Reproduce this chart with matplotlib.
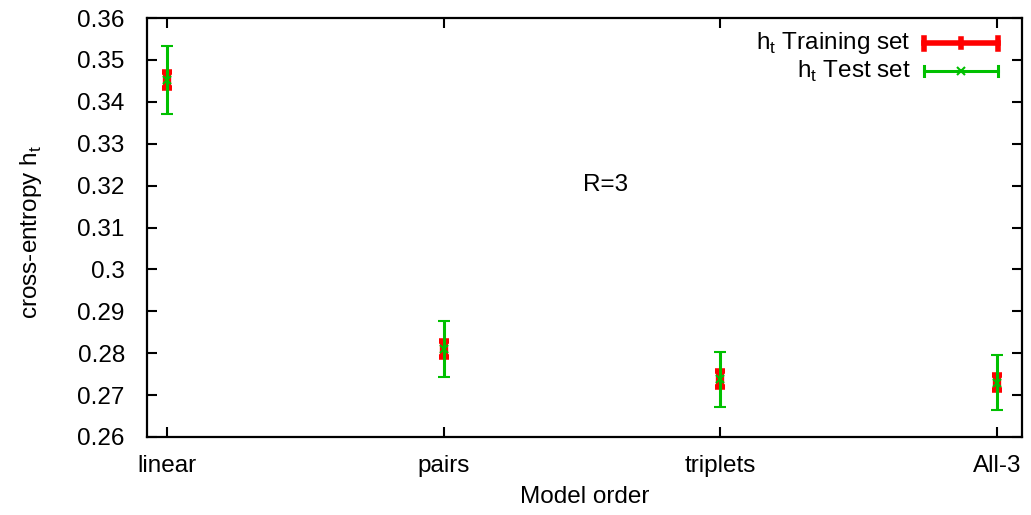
import matplotlib
matplotlib.use("Agg")
import matplotlib.pyplot as plt
from matplotlib.lines import Line2D

plt.rcParams['font.family'] = ['Liberation Sans', 'DejaVu Sans']

categories = ["linear", "pairs", "triplets", "All-3"]
train_mean = [0.3452, 0.2810, 0.2738, 0.2730]
train_err = [0.0019, 0.0018, 0.0019, 0.0019]
test_mean = [0.3452, 0.2810, 0.2738, 0.2730]
test_err = [0.0081, 0.0068, 0.0066, 0.0066]
yticks = [0.26, 0.27, 0.28, 0.29, 0.30, 0.31, 0.32, 0.33, 0.34, 0.35, 0.36]
ytick_labels = ["0.26", "0.27", "0.28", "0.29", "0.3", "0.31", "0.32", "0.33", "0.34", "0.35", "0.36"]

red = "#ff0000"
green = "#00c000"
fs = 17.5

fig = plt.figure(figsize=(10.31, 5.15), dpi=100)
ax = fig.add_axes([0.1426, 0.1515, 0.8487, 0.8135])

x = list(range(len(categories)))

ax.errorbar(x, train_mean, yerr=train_err, fmt='none', ecolor=red,
            elinewidth=6, capsize=3.8, capthick=4, zorder=3)
ax.errorbar(x, test_mean, yerr=test_err, fmt='x', color=green, ecolor=green,
            markersize=6, markeredgewidth=1.5,
            elinewidth=2.2, capsize=4, capthick=2.2, zorder=4)

ax.set_xlim(-0.072, 3.09)
ax.set_ylim(0.26, 0.36)
ax.set_xticks(x)
ax.set_xticklabels(categories, fontsize=fs)
ax.set_yticks(yticks)
ax.set_yticklabels(ytick_labels, fontsize=fs)
ax.tick_params(direction='in', length=7, width=1.5, top=True, right=True)
ax.tick_params(axis='y', pad=16)
ax.tick_params(axis='x', pad=13)
for s in ax.spines.values():
    s.set_linewidth(1.6)

ax.set_xlabel("Model order", fontsize=fs)
ax.xaxis.set_label_coords(0.5, -0.117)
ax.set_ylabel("cross-entropy h$_\\mathregular{t}$", fontsize=fs)
ax.yaxis.set_label_coords(-0.118, 0.49)

ax.text(1.585, 0.3201, "R=3", fontsize=fs, ha='center', va='center')

# key in the upper right corner
key_rows = [("h$_\\mathregular{t}$ Training set", red, 4, None),
            ("h$_\\mathregular{t}$ Test set", green, 2.2, 'x')]
ys = [0.940, 0.8735]
x0, x1 = 0.888, 0.9725
for (label, col, lw, mk), yy in zip(key_rows, ys):
    ax.text(0.873, yy, label, transform=ax.transAxes, fontsize=fs,
            ha='right', va='center')
    ax.add_line(Line2D([x0, x1], [yy, yy], transform=ax.transAxes, color=col, lw=lw))
    for xe in (x0, x1):
        ax.add_line(Line2D([xe, xe], [yy - 0.013, yy + 0.013], transform=ax.transAxes,
                           color=col, lw=lw))
    xm = (x0 + x1) / 2
    if mk:
        ax.add_line(Line2D([xm], [yy], transform=ax.transAxes, color=col,
                           marker='x', markersize=6, markeredgewidth=1.5))
    else:
        ax.add_line(Line2D([xm, xm], [yy - 0.009, yy + 0.009], transform=ax.transAxes,
                           color=col, lw=4))

fig.savefig("out.png", dpi=100)
